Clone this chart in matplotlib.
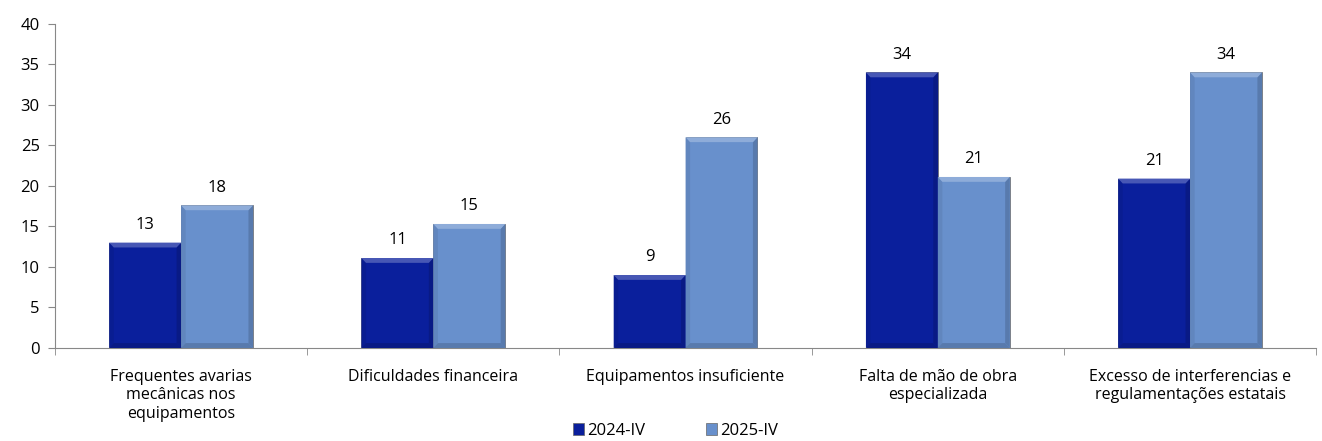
import numpy as np
import matplotlib.pyplot as plt
from matplotlib.patches import Polygon

plt.rcParams['font.family'] = ['Open Sans', 'DejaVu Sans']

categorias = ['Frequentes avarias\nmecânicas nos\nequipamentos',
              'Dificuldades financeira',
              'Equipamentos insuficiente',
              'Falta de mão de obra\nespecializada',
              'Excesso de interferencias e\nregulamentações estatais']
serie_2024 = [13, 11.1, 9, 34, 20.9]
serie_2025 = [17.6, 15.3, 26, 21.1, 34]
legendas = ['2024-IV', '2025-IV']

cor_2024 = '#0a1f9c'
cor_2025 = '#6890cc'


def chanfro(ax, barras, cor, dx=0.018, dy=0.6):
    # bevel effect: lighter top, slightly darker sides and bottom
    base = np.array(plt.matplotlib.colors.to_rgb(cor))
    claro = np.clip(base + (1 - base) * 0.25, 0, 1)
    escuro = base * 0.85
    for b in barras:
        x0, y0 = b.get_x(), b.get_y()
        x1, y1 = x0 + b.get_width(), y0 + b.get_height()
        d = min(dy, b.get_height() / 3)
        topo = [(x0, y1), (x1, y1), (x1 - dx, y1 - d), (x0 + dx, y1 - d)]
        fundo = [(x0, y0), (x1, y0), (x1 - dx, y0 + d), (x0 + dx, y0 + d)]
        esq = [(x0, y0), (x0, y1), (x0 + dx, y1 - d), (x0 + dx, y0 + d)]
        dir_ = [(x1, y0), (x1, y1), (x1 - dx, y1 - d), (x1 - dx, y0 + d)]
        ax.add_patch(Polygon(esq, closed=True, color=base * 0.93, lw=0, zorder=3))
        ax.add_patch(Polygon(dir_, closed=True, color=escuro, lw=0, zorder=3))
        ax.add_patch(Polygon(fundo, closed=True, color=escuro, lw=0, zorder=3))
        ax.add_patch(Polygon(topo, closed=True, color=claro, lw=0, zorder=3))


fig = plt.figure(figsize=(13.22, 4.41), dpi=100)
ax = fig.add_axes([0.0416, 0.211, 0.954, 0.735])

x = np.arange(len(categorias))
w = 0.285
b1 = ax.bar(x - w / 2, serie_2024, w, color=cor_2024, edgecolor='#666666', lw=0.5, zorder=2, label=legendas[0])
b2 = ax.bar(x + w / 2, serie_2025, w, color=cor_2025, edgecolor='#666666', lw=0.5, zorder=2, label=legendas[1])
chanfro(ax, b1, cor_2024)
chanfro(ax, b2, cor_2025)

for barras, vals in ((b1, serie_2024), (b2, serie_2025)):
    for b, v in zip(barras, vals):
        ax.text(b.get_x() + b.get_width() / 2, v + 1.2, '%.0f' % v,
                ha='center', va='bottom', fontsize=12, color='black')

ax.set_xlim(-0.5, len(categorias) - 0.5)
ax.set_ylim(0, 40)
ax.set_yticks(range(0, 41, 5))
ax.set_xticks(x)
ax.set_xticklabels(categorias, fontsize=11.5, linespacing=1.2)
ax.set_xticks(np.arange(-0.5, len(categorias)), minor=True)
ax.tick_params(axis='x', which='major', length=0, pad=15)
ax.tick_params(axis='x', which='minor', length=5, color='#888888')
ax.tick_params(axis='y', length=5, color='#888888', labelsize=12, pad=6)
for s in ('top', 'right'):
    ax.spines[s].set_visible(False)
for s in ('left', 'bottom'):
    ax.spines[s].set_color('#888888')

ax.legend(loc='lower center', bbox_to_anchor=(0.492, -0.3), ncol=2, frameon=False,
          fontsize=12, handlelength=0.7, handleheight=0.7, handletextpad=0.2,
          columnspacing=3.6, borderaxespad=0)

fig.savefig('out.png', dpi=100)
